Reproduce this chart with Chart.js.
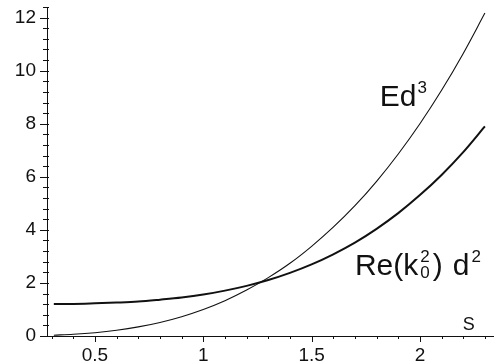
<!DOCTYPE html>
<html>
<head>
<meta charset="utf-8">
<script src="https://cdn.jsdelivr.net/npm/chart.js@4"></script>
<style>
  body { margin: 0; background: #fff; }
  #wrap { width: 494px; height: 363px; }
</style>
</head>
<body>
<div id="wrap"><canvas id="chart"></canvas></div>
<script>
/* =========================================================
   DATA
========================================================= */
const sVals   = [0.31, 0.4, 0.5, 0.6, 0.7, 0.8, 0.9, 1.0, 1.1, 1.2, 1.3,
                 1.4, 1.5, 1.6, 1.7, 1.8, 1.9, 2.0, 2.1, 2.2, 2.3];
const ed3Vals = [0.03, 0.064, 0.125, 0.216, 0.343, 0.512, 0.729, 1.0, 1.33, 1.73, 2.2,
                 2.74, 3.38, 4.1, 4.91, 5.83, 6.86, 8.0, 9.26, 10.65, 12.17];
const reVals  = [1.21, 1.21, 1.23, 1.26, 1.30, 1.37, 1.45, 1.56, 1.71, 1.89, 2.11,
                 2.38, 2.70, 3.08, 3.52, 4.04, 4.63, 5.31, 6.07, 6.93, 7.90];

const xTickVals = [0.5, 1, 1.5, 2];
const yTickVals = [0, 2, 4, 6, 8, 10, 12];

const xLabel = "S";

/* =========================================================
   HELPERS
========================================================= */
function toPoints(xs, ys) {
  return xs.map((x, i) => ({ x: x, y: ys[i] }));
}

function noLabelPadding(scale) {
  scale.paddingTop = 0;
  scale.paddingBottom = 0;
  scale.paddingLeft = 0;
  scale.paddingRight = 0;
}

const FONT = "Liberation Sans, Arial, Helvetica, sans-serif";

/* =========================================================
   TICK MARKS + CURVE LABELS
========================================================= */
const decorPlugin = {
  id: "decor",
  afterDraw(chart) {
    const ctx = chart.ctx;
    const xs = chart.scales.x;
    const ys = chart.scales.y;
    const left = chart.chartArea.left;
    const bottom = chart.chartArea.bottom;

    ctx.save();
    ctx.strokeStyle = "#111";
    ctx.lineWidth = 1;
    ctx.beginPath();

    // y ticks, every 0.4, major on labelled values
    for (let i = 0; i <= 31; i++) {
      const v = i * 0.4;
      const py = Math.round(ys.getPixelForValue(v)) + 0.5;
      const major = yTickVals.some(t => Math.abs(t - v) < 1e-6);
      ctx.moveTo(left - (major ? 7 : 4), py);
      ctx.lineTo(left + 2, py);
    }

    // x ticks, every 0.1, major on labelled values
    for (let i = 3; i <= 23; i++) {
      const v = i / 10;
      const px = Math.round(xs.getPixelForValue(v)) + 0.5;
      const major = xTickVals.some(t => Math.abs(t - v) < 1e-6);
      ctx.moveTo(px, bottom);
      ctx.lineTo(px, bottom + (major ? 6 : 3));
    }
    ctx.stroke();

    ctx.fillStyle = "#111";
    ctx.textBaseline = "alphabetic";

    // axis label
    ctx.font = "18px " + FONT;
    ctx.fillText(xLabel, xs.getPixelForValue(2.198), ys.getPixelForValue(0.24));

    // Ed^3
    let x = xs.getPixelForValue(1.815);
    let y = ys.getPixelForValue(8.66);
    ctx.font = "30px " + FONT;
    ctx.fillText("Ed", x, y);
    x += ctx.measureText("Ed").width + 1;
    ctx.font = "17px " + FONT;
    ctx.fillText("3", x, y - 13);

    // Re(k_0^2) d^2
    x = xs.getPixelForValue(1.70);
    y = ys.getPixelForValue(2.30);
    ctx.font = "30px " + FONT;
    ctx.fillText("Re(k", x, y);
    x += ctx.measureText("Re(k").width + 2;
    ctx.font = "17px " + FONT;
    ctx.fillText("2", x, y - 13);
    ctx.fillText("0", x, y + 3);
    x += ctx.measureText("2").width + 3;
    ctx.font = "30px " + FONT;
    ctx.fillText(")", x, y);
    x += ctx.measureText(")").width + 10;
    ctx.fillText("d", x, y);
    x += ctx.measureText("d").width + 2;
    ctx.font = "17px " + FONT;
    ctx.fillText("2", x, y - 13);

    ctx.restore();
  }
};

/* =========================================================
   CHART
========================================================= */
new Chart(document.getElementById("chart"), {
  type: "scatter",
  data: {
    datasets: [
      {
        label: "Ed3",
        data: toPoints(sVals, ed3Vals),
        showLine: true,
        borderColor: "#111",
        borderWidth: 1.1,
        pointRadius: 0,
        cubicInterpolationMode: "monotone"
      },
      {
        label: "Re(k0^2) d^2",
        data: toPoints(sVals, reVals),
        showLine: true,
        borderColor: "#111",
        borderWidth: 2,
        pointRadius: 0,
        cubicInterpolationMode: "monotone"
      }
    ]
  },
  options: {
    responsive: true,
    maintainAspectRatio: false,
    animation: false,
    layout: { padding: { top: 7, right: 0, left: 0, bottom: 0 } },
    plugins: {
      legend: { display: false },
      tooltip: { enabled: false }
    },
    scales: {
      x: {
        type: "linear",
        min: 0.2785,
        max: 2.342,
        afterFit(scale) { scale.height = 27; noLabelPadding(scale); },
        afterBuildTicks(scale) { scale.ticks = xTickVals.map(v => ({ value: v })); },
        grid: { display: false, drawTicks: false },
        border: { display: true, color: "#111", width: 1 },
        ticks: {
          padding: 8,
          color: "#111",
          font: { family: FONT, size: 19 },
          maxRotation: 0,
          callback: v => String(v)
        }
      },
      y: {
        type: "linear",
        min: 0,
        max: 12.4,
        afterFit(scale) { scale.width = 47; noLabelPadding(scale); },
        afterBuildTicks(scale) { scale.ticks = yTickVals.map(v => ({ value: v })); },
        grid: { display: false, drawTicks: false },
        border: { display: true, color: "#111", width: 1 },
        ticks: {
          padding: 11,
          color: "#111",
          font: { family: FONT, size: 19 },
          callback: v => String(v)
        }
      }
    }
  },
  plugins: [decorPlugin]
});
</script>
</body>
</html>
